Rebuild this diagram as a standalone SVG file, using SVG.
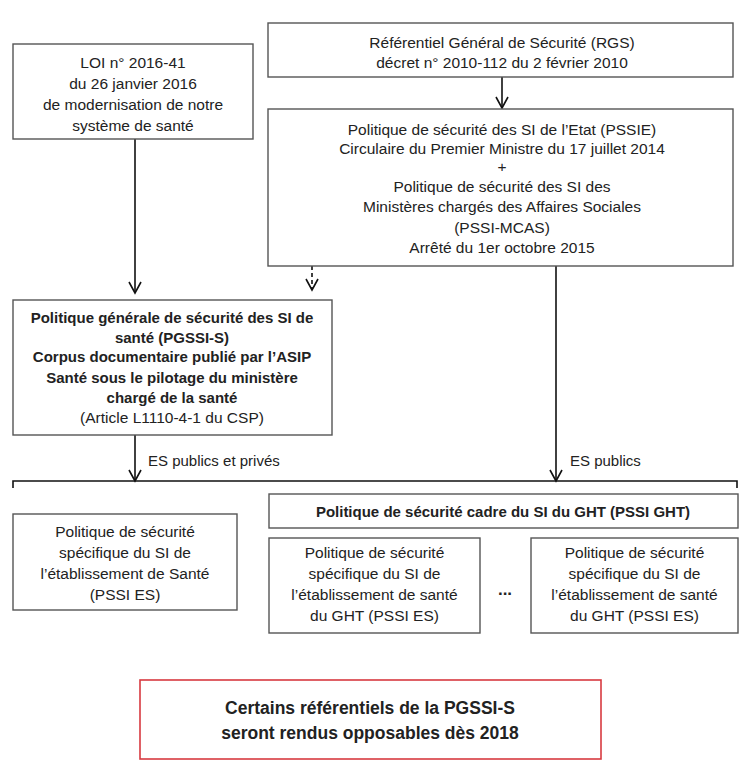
<svg xmlns="http://www.w3.org/2000/svg" width="753" height="774" viewBox="0 0 753 774">
<style>
text{font-family:"Liberation Sans",Arial,sans-serif;fill:#222;text-anchor:middle;font-size:15.5px}
.b{font-weight:bold;font-size:15px}
.r{font-weight:bold;font-size:17.5px}
.box{fill:#fff;stroke:#555;stroke-width:1.4}
.red{fill:#fff;stroke:#d83a40;stroke-width:1.6}
.ln{fill:none;stroke:#111;stroke-width:1.6}
.lab{text-anchor:start;font-size:15px}
</style>
<defs>
<marker id="ah" markerUnits="userSpaceOnUse" markerWidth="14" markerHeight="16" refX="12" refY="7" orient="auto" viewBox="0 0 14 14">
<path d="M1,1 L12,7 L1,13" fill="none" stroke="#111" stroke-width="1.6"/>
</marker>
</defs>
<rect width="753" height="774" fill="#fff"/>
<g id="connectors">
<line class="ln" x1="135" y1="139" x2="135" y2="293" marker-end="url(#ah)"/>
<line class="ln" x1="502" y1="77" x2="502" y2="108" marker-end="url(#ah)"/>
<line class="ln" x1="312" y1="266" x2="312" y2="290" stroke-dasharray="4,3" marker-end="url(#ah)"/>
<line class="ln" x1="135" y1="435" x2="135" y2="481" marker-end="url(#ah)"/>
<line class="ln" x1="556" y1="266" x2="556" y2="481" marker-end="url(#ah)"/>
<path class="ln" d="M13,488 L13,481 L737,481 L737,488"/>
<text class="lab" x="148" y="466">ES publics et privés</text>
<text class="lab" x="570" y="466">ES publics</text>
</g>
<g id="loi">
<rect class="box" x="13" y="44" width="240" height="95"/>
<text x="133" y="68">LOI n° 2016-41</text>
<text x="133" y="89">du 26 janvier 2016</text>
<text x="133" y="110">de modernisation de notre</text>
<text x="133" y="131">système de santé</text>
</g>
<g id="rgs">
<rect class="box" x="268" y="23" width="465" height="54"/>
<text x="502" y="48">Référentiel Général de Sécurité (RGS)</text>
<text x="502" y="68">décret n° 2010-112 du 2 février 2010</text>
</g>
<g id="pssie">
<rect class="box" x="268" y="109" width="465" height="157"/>
<text x="502" y="135">Politique de sécurité des SI de l’Etat (PSSIE)</text>
<text x="502" y="154">Circulaire du Premier Ministre du 17 juillet 2014</text>
<text x="502" y="172">+</text>
<text x="502" y="192">Politique de sécurité des SI des</text>
<text x="502" y="212">Ministères chargés des Affaires Sociales</text>
<text x="502" y="233">(PSSI-MCAS)</text>
<text x="502" y="253">Arrêté du 1er octobre 2015</text>
</g>
<g id="pgssi">
<rect class="box" x="13" y="300" width="319" height="135"/>
<text class="b" x="172" y="323">Politique générale de sécurité des SI de</text>
<text class="b" x="172" y="343">santé (PGSSI-S)</text>
<text class="b" x="172" y="362">Corpus documentaire publié par l’ASIP</text>
<text class="b" x="172" y="383">Santé sous le pilotage du ministère</text>
<text class="b" x="172" y="403">chargé de la santé</text>
<text x="172" y="423">(Article L1110-4-1 du CSP)</text>
</g>
<g id="pssi-es">
<rect class="box" x="13" y="514" width="224" height="96"/>
<text x="125" y="537">Politique de sécurité</text>
<text x="125" y="558">spécifique du SI de</text>
<text x="125" y="579">l’établissement de Santé</text>
<text x="125" y="600">(PSSI ES)</text>
</g>
<g id="pssi-ght">
<rect class="box" x="269" y="494" width="469" height="34"/>
<text class="b" x="503" y="517">Politique de sécurité cadre du SI du GHT (PSSI GHT)</text>
</g>
<g id="ght-es-1">
<rect class="box" x="269" y="538" width="211" height="95"/>
<text x="374.5" y="558">Politique de sécurité</text>
<text x="374.5" y="579">spécifique du SI de</text>
<text x="374.5" y="600">l’établissement de santé</text>
<text x="374.5" y="621">du GHT  (PSSI ES)</text>
</g>
<g id="dots">
<text class="b" x="505" y="595" style="font-size:17px">...</text>
</g>
<g id="ght-es-2">
<rect class="box" x="531" y="538" width="207" height="95"/>
<text x="634.5" y="558">Politique de sécurité</text>
<text x="634.5" y="579">spécifique du SI de</text>
<text x="634.5" y="600">l’établissement de santé</text>
<text x="634.5" y="621">du GHT  (PSSI ES)</text>
</g>
<g id="note">
<rect class="red" x="140" y="680" width="461" height="79"/>
<text class="r" x="370" y="714">Certains référentiels de la PGSSI-S</text>
<text class="r" x="370" y="739">seront rendus opposables dès 2018</text>
</g>
</svg>
